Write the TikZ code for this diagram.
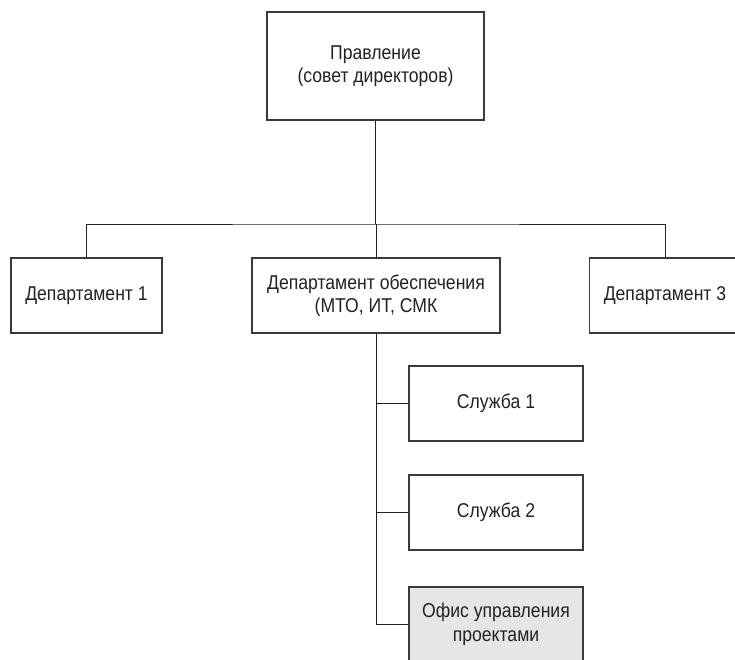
\documentclass[tikz,border=0pt]{standalone}
\usepackage{fontspec}
\setmainfont{Liberation Sans}[FakeStretch=0.88]
\usetikzlibrary{positioning}
\definecolor{ink}{HTML}{222222}
\definecolor{frame}{HTML}{3A3A3A}
\definecolor{officefill}{HTML}{E6E6E6}
\begin{document}
\begin{tikzpicture}[x=1pt,y=-1pt,
  orgbox/.style={draw=frame,line width=1.1pt,fill=white,rectangle,align=center,
    text=ink,font=\fontsize{20}{23.5}\selectfont,inner sep=0pt},
  wire/.style={draw=ink,line width=0.9pt}]
  \useasboundingbox (0,0) rectangle (735,659);
  \begin{scope}
  \clip (0,0) rectangle (735,659);
  % board of directors
  \node[orgbox,minimum width=217pt,minimum height=108pt] (top) at (375.5,66)
    {Правление\\(совет директоров)};
  % departments
  \node[orgbox,minimum width=151pt,minimum height=75pt] (d1) at (86.5,295.5)
    {Департамент 1};
  \node[orgbox,minimum width=248pt,minimum height=75pt] (d2) at (376,295.5)
    {Департамент обеспечения\\(МТО, ИТ, СМК};
  \node[orgbox,minimum width=151pt,minimum height=75pt] (d3) at (665,295.5)
    {Департамент 3};
  % services
  \node[orgbox,minimum width=174pt,minimum height=75pt] (s1) at (496,403.5)
    {Служба 1};
  \node[orgbox,minimum width=174pt,minimum height=75pt] (s2) at (496,512.5)
    {Служба 2};
  \node[orgbox,fill=officefill,minimum width=174pt,minimum height=75pt] (pmo) at (496,624.5)
    {Офис управления\\проектами};
  % connectors
  \coordinate (bus) at (376,224);
  \draw[wire] (top.south) -- (top.south |- bus);
  \draw[wire] (d1.north) |- (bus) -| (d3.north);
  \draw[wire] (bus) -- (d2.north);
  \draw[wire] (d2.south) -- (d2.south |- pmo.west) -- (pmo.west);
  \draw[wire] (d2.south |- s1.west) -- (s1.west);
  \draw[wire] (d2.south |- s2.west) -- (s2.west);
  \end{scope}
\end{tikzpicture}
\end{document}
